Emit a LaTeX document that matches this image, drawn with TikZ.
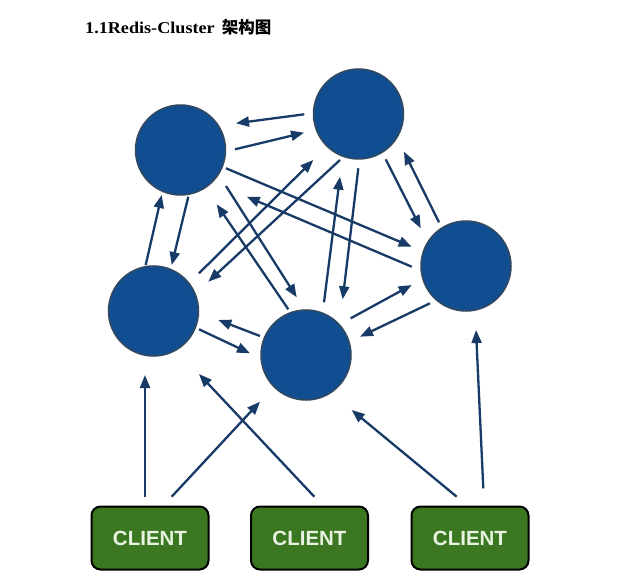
\documentclass[tikz,border=0pt]{standalone}
\usepackage{fontspec}
\setsansfont{Liberation Sans}
\newfontfamily\titlefont{Liberation Serif}
\newfontfamily\cjkfont{Noto Sans CJK SC}
\usetikzlibrary{arrows.meta}
\definecolor{nodeblue}{HTML}{104E91}
\definecolor{nodeedge}{HTML}{34495E}
\definecolor{linkblue}{HTML}{173A66}
\definecolor{clientgreen}{HTML}{3B7620}
\definecolor{clienttext}{HTML}{E8F2E0}
\tikzset{
  redis/.style={circle, minimum size=90pt, inner sep=0pt, fill=nodeblue, draw=nodeedge, line width=1.5pt},
  clientbox/.style={rectangle, rounded corners=9pt, minimum width=117pt, minimum height=63pt, inner sep=0pt,
    fill=clientgreen, draw=black, line width=2pt, text=clienttext,
    font=\sffamily\bfseries\fontsize{20.5}{20.5}\selectfont},
  link/.style={draw=linkblue, line width=2.3pt, -{Triangle[length=13pt,width=10pt]}},
}
\begin{document}
\begin{tikzpicture}[x=1pt,y=-1pt]
\useasboundingbox (0,0) rectangle (622,583);
\node[anchor=base west, inner sep=0pt] (title) at (85,34)
  {\titlefont\bfseries\fontsize{16.5}{16.5}\selectfont\scalebox{1.1}[1]{1.1Redis-Cluster}\hspace{7pt}{\cjkfont\bfseries\fontsize{16.5}{16.5}\selectfont 架构图}};
% redis nodes
\node[redis] (A) at (180.5,150) {};
\node[redis] (B) at (358.5,114) {};
\node[redis] (C) at (466,266) {};
\node[redis] (D) at (153.5,311) {};
\node[redis] (E) at (306,355) {};
% clients
\node[clientbox] (K1) at (150,538) {CLIENT};
\node[clientbox] (K2) at (309.5,538) {CLIENT};
\node[clientbox] (K3) at (470,538) {CLIENT};
% links between redis nodes
\draw[link] ([shift={(-54.2,0.3)}]B.center) -- ([shift={(55.5,-26.7)}]A.center);
\draw[link] ([shift={(54.5,-0.7)}]A.center) -- ([shift={(-54.5,18.7)}]B.center);
\draw[link] ([shift={(-7.8,-46)}]D.center) -- ([shift={(-18.8,45)}]A.center);
\draw[link] ([shift={(7.8,46.7)}]A.center) -- ([shift={(18.2,-46)}]D.center);
\draw[link] ([shift={(45.5,18.3)}]A.center) -- ([shift={(-54.3,-19.3)}]C.center);
\draw[link] ([shift={(-54.3,0.7)}]C.center) -- ([shift={(66.2,46.7)}]A.center);
\draw[link] ([shift={(45.5,36)}]A.center) -- ([shift={(-9.3,-57.7)}]E.center);
\draw[link] ([shift={(-17.7,-45.7)}]E.center) -- ([shift={(36.2,54.3)}]A.center);
\draw[link] ([shift={(45.5,-37.7)}]D.center) -- ([shift={(-45.2,46)}]B.center);
\draw[link] ([shift={(-18.5,46)}]B.center) -- ([shift={(54.8,-29.3)}]D.center);
\draw[link] ([shift={(18,-52.7)}]E.center) -- ([shift={(-18.5,62.7)}]B.center);
\draw[link] ([shift={(-0.2,54.3)}]B.center) -- ([shift={(36.7,-55.7)}]E.center);
\draw[link] ([shift={(27.2,45.3)}]B.center) -- ([shift={(-45.3,-37.7)}]C.center);
\draw[link] ([shift={(-27,-43.7)}]C.center) -- ([shift={(45.5,37.7)}]B.center);
\draw[link] ([shift={(-46,-19)}]E.center) -- ([shift={(64.8,9)}]D.center);
\draw[link] ([shift={(45.5,18.3)}]D.center) -- ([shift={(-56,-1.7)}]E.center);
\draw[link] ([shift={(44.7,-36.7)}]E.center) -- ([shift={(-54.3,19)}]C.center);
\draw[link] ([shift={(-36,37.3)}]C.center) -- ([shift={(54,-18.3)}]E.center);
% client links
\draw[link] ([shift={(-5,-41.3)}]K1.center) -- ([shift={(-8.5,64)}]D.center);
\draw[link] ([shift={(21.7,-41.3)}]K1.center) -- ([shift={(-46,46.7)}]E.center);
\draw[link] ([shift={(4.8,-41.3)}]K2.center) -- ([shift={(45.5,63)}]D.center);
\draw[link] ([shift={(-13.3,-41.3)}]K3.center) -- ([shift={(45.7,55)}]E.center);
\draw[link] ([shift={(13.3,-49.7)}]K3.center) -- ([shift={(10,64)}]C.center);
\end{tikzpicture}
\end{document}
